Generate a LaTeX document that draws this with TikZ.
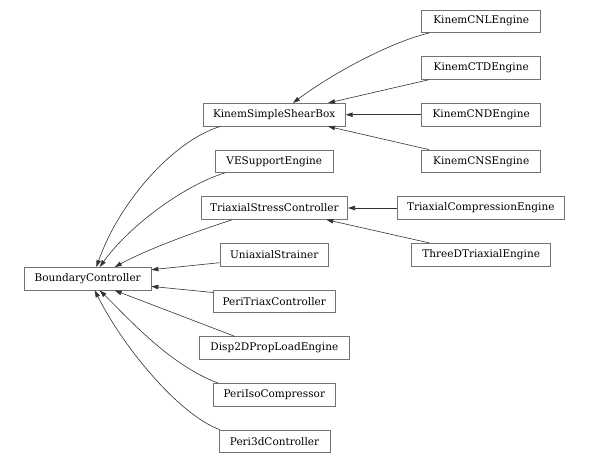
\documentclass[tikz,border=0pt]{standalone}
\usepackage{fontspec}
\setmainfont{DejaVu Serif}
\usetikzlibrary{arrows.meta,calc}
\begin{document}
\begin{tikzpicture}[x=1pt,y=-1pt,
  cls/.style={draw=black!55, line width=0.7pt, fill=white, inner sep=0pt, minimum height=22.7pt,
    font=\fontsize{10.5}{12}\selectfont, text=black},
  inh/.style={draw=black!80, line width=0.6pt, -{Triangle[length=7pt,width=4.5pt]}}]
\useasboundingbox[fill=white] (0,0) rectangle (589,463);
% nodes
\node[cls, minimum width=126.7pt] (BC) at (87.7,278.7) {BoundaryController};
\node[cls, minimum width=142.3pt] (KSSB) at (274.2,114.7) {KinemSimpleShearBox};
\node[cls, minimum width=118.7pt] (VES) at (274.3,161.3) {VESupportEngine};
\node[cls, minimum width=146.7pt] (TSC) at (274.3,208) {TriaxialStressController};
\node[cls, minimum width=108.3pt] (US) at (274.2,254.7) {UniaxialStrainer};
\node[cls, minimum width=121.7pt] (PTC) at (274.2,301.2) {PeriTriaxController};
\node[cls, minimum width=150pt] (D2D) at (274.3,348) {Disp2DPropLoadEngine};
\node[cls, minimum width=121.3pt] (PIC) at (274.3,394.7) {PeriIsoCompressor};
\node[cls, minimum width=111pt] (P3D) at (274.5,441.3) {Peri3dController};
\node[cls, minimum width=119pt] (KCNL) at (481.2,21.2) {KinemCNLEngine};
\node[cls, minimum width=119pt] (KCTD) at (481.2,68) {KinemCTDEngine};
\node[cls, minimum width=119pt] (KCND) at (481.2,114.7) {KinemCNDEngine};
\node[cls, minimum width=119pt] (KCNS) at (481.2,161.3) {KinemCNSEngine};
\node[cls, minimum width=167pt] (TCE) at (480.8,208) {TriaxialCompressionEngine};
\node[cls, minimum width=139pt] (TDT) at (481.2,254.7) {ThreeDTriaxialEngine};
% edges into BoundaryController
\draw[inh] ($(KSSB.south west)+(17.7,0)$) .. controls (175,140) and (120,200) .. ($(BC.north west)+(72.4,0)$);
\draw[inh] ($(VES.south west)+(10,0)$) .. controls (185,185) and (130,225) .. ($(BC.north west)+(75.7,0)$);
\draw[inh] ($(TSC.south west)+(31.7,0)$) .. controls (195,232) and (150,248) .. ($(BC.north west)+(90.7,0)$);
\draw[inh] ($(US.south west)+(0,-3.7)$) -- ($(BC.north east)+(0,2.7)$);
\draw[inh] ($(PTC.north west)+(0,3)$) -- ($(BC.south east)+(0,-4)$);
\draw[inh] ($(D2D.north west)+(35.7,0)$) -- ($(BC.south west)+(90.7,0)$);
\draw[inh] ($(PIC.north west)+(4.6,0)$) .. controls (170,365) and (130,320) .. ($(BC.south west)+(75.7,0)$);
\draw[inh] ($(P3D.north west)+(1,0)$) .. controls (180,415) and (125,350) .. ($(BC.south west)+(70.7,0)$);
% edges into KinemSimpleShearBox
\draw[inh] ($(KCNL.south west)+(8.3,0)$) .. controls (390,42) and (330,75) .. ($(KSSB.north west)+(90.3,0)$);
\draw[inh] ($(KCTD.south west)+(7.6,0)$) -- ($(KSSB.north west)+(125.3,0)$);
\draw[inh] (KCND.west) -- (KSSB.east);
\draw[inh] ($(KCNS.north west)+(7.6,0)$) -- ($(KSSB.south west)+(125.3,0)$);
% edges into TriaxialStressController
\draw[inh] (TCE.west) -- (TSC.east);
\draw[inh] ($(TDT.north west)+(18.3,0)$) -- ($(TSC.south west)+(125.7,0)$);
\end{tikzpicture}
\end{document}
